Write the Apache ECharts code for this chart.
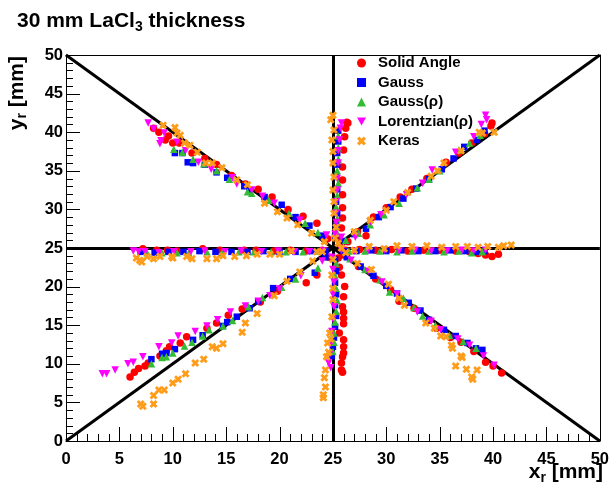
<!DOCTYPE html>
<html>
<head>
<meta charset="utf-8">
<script src="https://cdn.jsdelivr.net/npm/echarts@6/dist/echarts.min.js"></script>
<style>
html,body{margin:0;padding:0;background:#fff;}
#chart{width:612px;height:488px;}
</style>
</head>
<body>
<div id="chart"></div>
<script>
// ---- Data ----
const seriesNames = ['Solid Angle', 'Gauss', 'Gauss(\u03c1)', 'Lorentzian(\u03c1)', 'Keras'];

// Reference lines: each as [start, end]
const refLines = [
  [[0, 0], [50, 50]],
  [[0, 50], [50, 0]],
  [[0, 25], [50, 25]],
  [[25, 0], [25, 50]]
];

// Axis tick values
const majorTicks = [0, 5, 10, 15, 20, 25, 30, 35, 40, 45, 50];
const minorTicks = [1, 2, 3, 4, 6, 7, 8, 9, 11, 12, 13, 14, 16, 17, 18, 19, 21, 22, 23, 24,
                    26, 27, 28, 29, 31, 32, 33, 34, 36, 37, 38, 39, 41, 42, 43, 44, 46, 47, 48, 49];

const solidAngle = [
  [8.2,40.5],[8.7,40.0],[9.3,39.0],[9.6,39.5],[10.0,38.6],[10.6,38.6],[11.8,37.3],[13.0,36.6],[14.1,35.8],[15.5,34.4],[16.8,33.3],[18.0,32.6],[19.3,31.6],[20.8,30.0],[22.2,29.1],[23.5,28.2],[24.5,26.2],
  [25.8,25.6],[26.4,25.8],[27.3,27.1],[28.1,26.6],[28.8,29.0],[30.0,30.2],[31.3,31.6],[32.4,32.6],[33.8,34.0],[35.6,36.1],[36.8,37.3],[38.0,38.6],[39.2,39.8],[39.8,40.8],[39.9,41.2],
  [26.2,24.7],[27.5,24.8],[29.0,24.7],[30.5,24.8],[32.0,24.6],[33.5,24.7],[35.0,24.7],[36.5,24.6],[37.8,24.5],[38.6,24.3],[39.3,24.1],[39.9,23.9],[40.5,24.2],
  [26.0,24.1],[27.4,22.6],[29.0,21.0],[30.4,19.6],[31.2,18.1],[32.6,17.2],[34.0,15.6],[34.7,14.6],[36.0,13.4],[37.0,12.8],[38.2,11.6],[39.3,10.2],[40.0,9.7],[40.8,8.8],
  [25.5,23.7],[25.6,22.5],[25.8,21.5],[26.1,20.0],[26.0,18.7],[25.9,17.4],[26.0,16.7],[26.0,15.9],[26.0,15.2],[25.6,14.0],[26.0,13.1],[26.0,12.2],[26.0,11.4],[25.9,10.9],[25.8,10.1],[25.8,9.2],[25.9,8.9],
  [25.6,26.0],[25.8,27.6],[25.9,28.9],[25.9,30.2],[25.9,31.9],[25.9,33.8],[25.9,35.5],[26.0,37.7],[26.1,39.4],[26.2,40.5],[26.4,41.2],[26.3,41.3],
  [7.2,24.9],[8.5,24.7],[9.5,24.7],[10.4,24.6],[12.8,24.9],[14.4,24.7],[16.7,24.7],[17.8,24.7],[19.5,24.6],[21.0,24.7],[22.5,24.6],[24.0,24.7],
  [6.0,8.3],[6.4,8.9],[6.8,9.4],[7.4,9.7],[7.7,10.1],[8.8,11.0],[9.4,11.7],[9.7,12.2],[10.7,12.7],[11.3,13.5],[13.2,14.6],[14.1,15.3],[15.2,16.3],[16.5,17.1],[18.2,18.0],[19.8,19.4],[22.5,20.5],[23.5,21.5],[24.6,23.8]
];

const gauss = [
  [10.2,37.3],[10.9,37.3],[11.4,36.1],[11.9,36.0],[13.0,35.8],[14.1,34.8],[15.1,34.1],[16.7,33.0],[17.2,32.4],[18.6,31.6],[20.2,30.6],[21.5,29.0],[22.8,27.9],[24.0,26.6],
  [26.0,25.9],[27.0,26.8],[28.1,27.5],[29.3,29.0],[30.4,30.3],[31.6,31.4],[32.8,32.7],[34.0,33.9],[35.2,35.2],[36.3,36.6],[37.3,38.1],[38.5,39.0],[39.2,40.2],
  [26.0,24.6],[27.2,24.6],[28.6,24.7],[30.0,24.6],[31.4,24.7],[33.0,24.6],[34.6,24.6],[36.0,24.7],[37.4,24.6],[38.5,24.5],[39.2,24.6],
  [26.3,23.8],[27.6,22.6],[28.8,21.4],[30.0,20.1],[31.0,19.1],[32.1,17.9],[33.2,16.9],[34.0,15.7],[35.4,14.4],[36.5,13.6],[37.6,12.7],[38.4,12.0],[39.0,11.8],
  [25.2,23.5],[25.3,22.0],[25.2,20.5],[25.3,19.0],[25.2,17.6],[25.3,16.2],[25.2,14.8],[25.1,13.4],[25.0,12.2],[24.9,11.0],
  [25.2,26.5],[25.3,28.0],[25.4,29.5],[25.3,31.0],[25.4,32.6],[25.3,34.2],[25.4,35.8],[25.4,37.3],[25.5,38.8],[25.5,40.2],
  [7.0,24.5],[8.3,24.4],[9.6,24.5],[11.0,24.5],[12.5,24.6],[14.0,24.5],[15.5,24.5],[17.0,24.5],[18.5,24.6],[20.0,24.5],[21.5,24.5],[23.0,24.6],[24.3,24.6],
  [8.0,10.6],[9.0,11.3],[9.4,11.4],[10.2,11.9],[11.9,13.1],[12.8,13.7],[14.7,14.9],[15.1,15.4],[16.0,16.1],[17.2,17.2],[18.0,18.1],[19.4,19.8],[21.0,21.0],[23.3,21.8],[24.3,23.8]
];

const gaussRho = [
  [10.1,37.8],[10.9,37.4],[11.9,36.5],[12.9,35.9],[14.1,35.0],[15.3,33.9],[17.0,32.3],[17.4,32.1],[19.0,31.2],[20.9,29.5],[22.4,28.2],[23.6,27.0],
  [26.2,26.0],[27.4,26.9],[28.5,28.0],[29.8,29.3],[31.2,30.8],[32.9,32.8],[34.0,33.9],[35.0,35.0],[36.8,37.7],[37.8,38.6],[38.8,39.6],
  [26.5,24.6],[28.0,24.6],[29.4,24.6],[31.0,24.5],[32.4,24.6],[34.0,24.6],[35.4,24.5],[36.8,24.6],[38.0,24.4],[39.0,24.5],
  [26.6,23.6],[28.0,22.2],[29.4,20.9],[30.3,19.3],[31.6,18.5],[32.6,17.3],[33.4,16.2],[34.6,15.0],[35.9,13.7],[37.2,12.9],[38.4,12.0],
  [25.3,23.0],[25.2,21.4],[25.3,19.8],[25.4,18.2],[25.3,16.8],[25.2,15.4],[25.1,14.0],[25.1,12.8],[25.0,11.6],
  [25.3,27.2],[25.4,28.8],[25.3,30.3],[25.4,31.8],[25.5,33.4],[25.4,35.0],[25.5,36.5],[25.5,38.0],[25.5,39.5],
  [7.6,24.4],[9.0,24.4],[10.4,24.4],[11.5,24.4],[13.2,24.5],[14.6,24.4],[16.2,24.5],[17.6,24.5],[19.2,24.5],[20.6,24.5],[22.2,24.5],[23.6,24.6],
  [8.0,10.0],[9.0,10.8],[9.4,10.9],[10.0,11.4],[11.1,12.3],[11.8,12.8],[12.8,13.6],[13.4,14.4],[14.7,14.9],[15.6,15.6],[17.1,17.4],[18.4,18.6],[20.2,19.9],[21.5,21.0],[23.6,22.4]
];

const lorentzRho = [
  [7.7,41.2],[8.2,40.4],[8.8,38.5],[8.9,38.9],[9.2,39.9],[10.4,38.7],[11.2,37.6],[12.4,36.1],[13.6,35.2],[15.6,34.1],[16.0,33.3],[17.4,32.5],[18.4,31.7],[19.5,30.8],[21.9,28.6],[24.4,26.7],
  [25.8,26.4],[27.1,26.4],[28.5,28.4],[29.5,29.3],[31.9,31.9],[33.4,33.4],[34.3,35.1],[36.5,37.4],[38.2,39.4],[39.3,42.2],[39.4,41.6],[38.9,41.0],
  [25.8,24.7],[27.0,24.6],[28.3,24.7],[29.8,24.7],[31.2,24.6],[32.7,24.7],[34.2,24.6],[35.7,24.6],[37.1,24.7],[38.2,24.6],[39.3,24.7],
  [26.7,23.4],[28.3,22.0],[29.6,20.6],[31.0,19.0],[32.9,16.7],[34.2,15.5],[35.1,14.4],[36.7,13.2],[37.8,12.4],[39.1,11.0],[40.1,9.8],
  [24.9,23.8],[25.0,22.2],[25.1,20.6],[25.0,19.0],[25.1,17.4],[25.0,15.8],[24.9,14.2],[24.8,12.6],[24.7,11.2],[24.6,10.1],[24.8,9.5],
  [25.2,26.8],[25.3,28.3],[25.3,29.5],[25.3,31.0],[25.4,32.5],[25.4,34.0],[25.5,36.0],[25.5,37.6],[25.6,39.0],[25.7,40.5],[25.8,41.2],
  [6.3,24.6],[6.8,24.5],[7.4,24.5],[8.7,24.4],[10.1,24.5],[11.7,24.5],[13.0,24.6],[14.9,24.5],[16.4,24.6],[18.3,24.5],[19.9,24.6],[21.4,24.5],[22.8,24.5],[24.1,24.6],
  [3.4,8.7],[3.8,8.7],[4.6,9.2],[5.8,10.0],[6.3,10.2],[7.2,10.9],[8.7,12.2],[9.9,12.7],[10.5,13.6],[12.1,14.2],[13.2,14.9],[14.2,15.7],[15.4,16.7],[16.8,17.5],[18.0,18.1],[19.1,18.8],[20.0,19.7],[22.0,21.4],[24.0,23.3]
];

const keras = [
  [9.1,40.9],[10.2,40.6],[10.4,39.9],[10.7,39.6],[11.1,38.6],[11.6,38.3],[12.3,37.4],[13.1,36.0],[13.7,36.0],[14.6,35.4],[16.0,33.8],[17.0,33.2],[18.6,30.8],[19.8,29.7],[20.7,28.9],[21.7,28.0],[23.0,26.9],[24.2,25.8],
  [25.5,25.6],[27.0,27.1],[28.5,28.6],[30.0,29.9],[30.7,31.0],[32.0,32.2],[34.2,34.3],[34.8,35.0],[35.4,36.0],[37.0,37.6],[38.7,40.0],[39.0,39.9],[40.1,40.0],
  [25.8,25.0],[27.0,24.7],[28.4,25.2],[29.8,24.9],[31.0,25.3],[32.4,25.2],[33.8,25.3],[35.2,25.1],[36.5,25.2],[37.6,25.2],[38.6,25.1],[39.5,25.2],[40.5,25.1],[41.0,25.3],[41.7,25.4],
  [26.2,24.4],[27.3,23.0],[28.6,22.2],[30.2,20.3],[31.2,18.5],[31.7,17.6],[33.7,15.3],[34.5,14.6],[35.1,13.6],[35.6,13.5],[36.1,12.4],[36.2,12.0],[37.0,11.0],[37.1,10.8],[36.5,9.7],[37.5,9.3],[38.5,9.2],[38.0,8.3],[38.1,8.0],
  [25.0,23.5],[24.9,21.5],[25.0,19.8],[25.0,18.3],[24.9,16.1],[24.8,13.2],[24.7,14.0],[24.6,11.5],[24.5,12.7],[24.4,10.9],[24.3,9.2],[24.2,8.2],[24.3,7.0],[24.1,6.0],[24.1,5.6],
  [25.0,42.2],[24.8,41.6],[25.1,40.3],[24.9,39.0],[25.0,37.5],[25.0,36.0],[25.1,34.2],[25.0,32.5],[25.1,31.0],[25.1,29.5],[25.3,27.7],[25.2,26.3],
  [6.6,23.7],[6.9,23.4],[7.1,23.2],[7.6,23.9],[8.2,23.6],[8.8,23.9],[9.9,23.9],[10.0,23.7],[11.3,23.9],[11.8,23.6],[13.2,23.6],[14.1,23.6],[14.7,24.0],[15.8,23.9],[16.9,24.0],[17.9,24.2],[19.1,24.2],[20.0,24.2],[21.1,24.6],[23.5,24.5],[24.0,24.5],
  [7.0,4.8],[7.2,4.5],[8.2,4.8],[8.2,5.9],[8.7,6.6],[9.2,6.6],[10.0,7.5],[10.5,8.0],[11.2,8.7],[12.1,10.1],[12.9,10.6],[13.7,12.2],[14.1,12.0],[14.7,12.6],[16.5,14.1],[16.8,15.3],[17.9,16.5],[19.5,18.8],[20.7,20.7],[21.9,21.9],[23.1,23.3]
];

const xTicks = {min: 0, max: 50, interval: 5};
const yTicks = {min: 0, max: 50, interval: 5};

// ---- Chart ----
const FONT = '"Liberation Sans", Arial, Helvetica, sans-serif';
const chart = echarts.init(document.getElementById('chart'));

const xShape = 'path://M0,2.5 L2.5,0 L5,2.5 L7.5,0 L10,2.5 L7.5,5 L10,7.5 L7.5,10 L5,7.5 L2.5,10 L0,7.5 L2.5,5 Z';
const downTri = 'path://M0,0 L10,0 L5,9 Z';

function mainAxis(t, margin) {
  return {
    gridIndex: 0, type: 'value', min: t.min, max: t.max, interval: t.interval,
    axisLine: {show: true, lineStyle: {color: '#000', width: 1}},
    axisTick: {show: false},
    minorTick: {show: false},
    splitLine: {show: false},
    axisLabel: {show: true, color: '#000', fontWeight: 'bold', fontSize: 16.5, fontFamily: FONT, margin: margin}
  };
}
function frameAxis(t, pos) {
  return {
    gridIndex: 0, type: 'value', position: pos, min: t.min, max: t.max, interval: t.interval,
    axisLine: {show: true, onZero: false, lineStyle: {color: '#000', width: 1}},
    axisTick: {show: false}, axisLabel: {show: false}, splitLine: {show: false}
  };
}

const seriesData = [solidAngle, gauss, gaussRho, lorentzRho, keras];
const colors = ['#ff0000', '#0000ff', '#33bb33', '#ff00ff', '#ff9c1a'];
const symbols = ['circle', 'rect', 'triangle', downTri, xShape];
const sizes = [7.5, 6.5, 7.5, 7.5, 8];

// Tick marks drawn inward from the axes, placed through the axis scales.
// kind: 0 = x major, 1 = x minor, 2 = y major, 3 = y minor
const tickData = []
  .concat(majorTicks.map(v => [v, 0]))
  .concat(minorTicks.map(v => [v, 1]))
  .concat(majorTicks.map(v => [v, 2]))
  .concat(minorTicks.map(v => [v, 3]));

const series = seriesNames.map((n, i) => {
  const s = {
    name: n,
    type: 'scatter',
    xAxisIndex: 0, yAxisIndex: 0,
    symbol: symbols[i],
    symbolSize: sizes[i],
    itemStyle: {color: colors[i], opacity: 1},
    data: seriesData[i]
  };
  if (i === 0) {
    s.markLine = {
      silent: true,
      z: 1,
      symbol: ['none', 'none'],
      label: {show: false},
      emphasis: {disabled: true},
      lineStyle: {color: '#000', width: 3, type: 'solid', opacity: 1},
      data: refLines.map(seg => [{coord: seg[0]}, {coord: seg[1]}])
    };
  }
  return s;
});

series.push({
  type: 'custom',
  xAxisIndex: 0, yAxisIndex: 0,
  silent: true,
  clip: false,
  z: 1,
  encode: {x: 0, y: 1},
  data: tickData,
  renderItem: function (params, api) {
    const v = api.value(0);
    const k = api.value(1);
    const len = (k === 0 || k === 2) ? 14 : 7;
    let x1, y1, x2, y2;
    if (k < 2) {
      const p = api.coord([v, yTicks.min]);
      x1 = Math.round(p[0]) + 0.5; x2 = x1;
      y1 = p[1]; y2 = p[1] - len;
    } else {
      const p = api.coord([xTicks.min, v]);
      y1 = Math.round(p[1]) + 0.5; y2 = y1;
      x1 = p[0]; x2 = p[0] + len;
    }
    return {type: 'line', shape: {x1: x1, y1: y1, x2: x2, y2: y2}, style: {stroke: '#000', lineWidth: 1}};
  }
});

chart.setOption({
  animation: false,
  title: {
    text: '{a|30 mm LaCl}{s|3}{a| thickness}',
    left: 12, top: 4,
    textStyle: {
      rich: {
        a: {fontSize: 21, fontWeight: 'bold', color: '#000', fontFamily: FONT},
        s: {fontSize: 14, fontWeight: 'bold', color: '#000', fontFamily: FONT, padding: [11, 0, 0, 0]}
      }
    }
  },
  legend: {
    orient: 'vertical',
    left: 352, top: 50,
    itemWidth: 9, itemHeight: 9, itemGap: 3.5,
    textStyle: {color: '#000', fontWeight: 'bold', fontSize: 15, fontFamily: FONT, lineHeight: 16, padding: [0, 0, 0, 7]},
    data: seriesNames
  },
  grid: [{left: 66, top: 55, width: 535, height: 386}],
  xAxis: [mainAxis(xTicks, 10), frameAxis(xTicks, 'top')],
  yAxis: [mainAxis(yTicks, 3), frameAxis(yTicks, 'right')],
  graphic: [
    {
      type: 'text', right: 9, top: 462,
      style: {
        text: '{a|x}{s|r}{a| [mm]}',
        rich: {
          a: {fontSize: 21, fontWeight: 'bold', fill: '#000', fontFamily: FONT},
          s: {fontSize: 14, fontWeight: 'bold', fill: '#000', fontFamily: FONT, padding: [11, 0, 0, 0]}
        }
      }
    },
    {
      type: 'text', x: 17, y: 56, rotation: Math.PI / 2,
      style: {
        text: '{a|y}{s|r}{a| [mm]}',
        align: 'right', verticalAlign: 'middle',
        rich: {
          a: {fontSize: 21, fontWeight: 'bold', fill: '#000', fontFamily: FONT},
          s: {fontSize: 14, fontWeight: 'bold', fill: '#000', fontFamily: FONT, padding: [11, 0, 0, 0]}
        }
      }
    }
  ],
  series: series
});
</script>
</body>
</html>
